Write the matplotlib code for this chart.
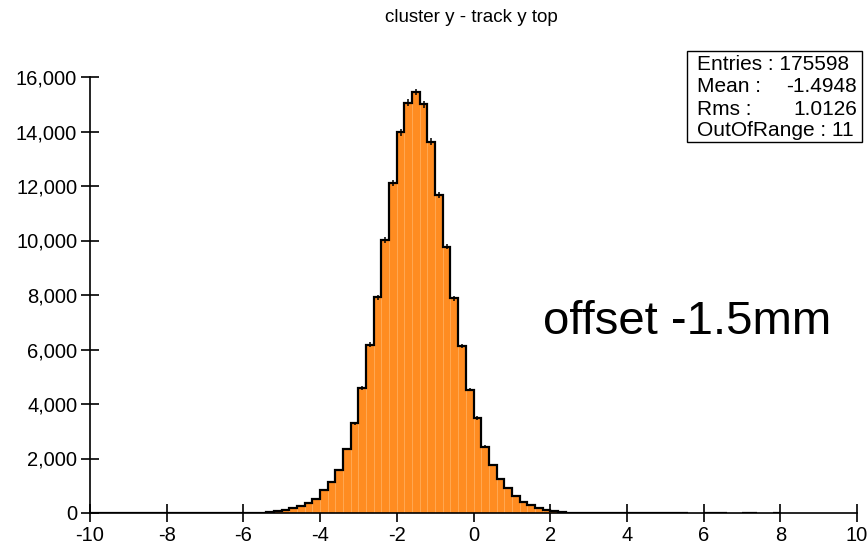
import numpy as np
import matplotlib
matplotlib.use("Agg")
import matplotlib.pyplot as plt
from matplotlib.ticker import FuncFormatter
from matplotlib.patches import Rectangle

plt.rcParams['font.family'] = ['Liberation Sans', 'DejaVu Sans']

# Histogram definition: 100 bins of 0.2 from -10 to 10
x_min = -10.0
x_max = 10.0
n_bins = 100
counts = [
    2, 1, 2, 3, 2, 4, 3, 2, 5, 4,
    3, 6, 5, 7, 6, 8, 9, 11, 10, 10,
    9, 8, 12, 20, 90, 110, 170, 257, 380, 500,
    830, 1150, 1580, 2345, 3300, 4575, 6180, 7910, 10020, 12100,
    13970, 15060, 15450, 15000, 13630, 11670, 9775, 7880, 6140, 4530,
    3490, 2435, 1770, 1230, 915, 610, 415, 285, 170, 110,
    85, 25, 14, 10, 8, 6, 5, 4, 3, 3,
    2, 2, 2, 1, 1, 1, 1, 1, 0, 0,
    1, 1, 1, 0, 0, 1, 1, 0, 0, 1,
    0, 0, 0, 0, 0, 0, 0, 0, 0, 0,
]

title = "cluster y - track y top"
stats_labels = ["Entries : 175598", "Mean :", "Rms :", "OutOfRange : 11"]
stats_values = ["", "-1.4948", "1.0126", ""]
annotation = "offset -1.5mm"
x_ticks = [-10, -8, -6, -4, -2, 0, 2, 4, 6, 8, 10]
y_ticks = [0, 2000, 4000, 6000, 8000, 10000, 12000, 14000, 16000]

counts = np.array(counts, dtype=float)
edges = np.linspace(x_min, x_max, n_bins + 1)
centers = 0.5 * (edges[:-1] + edges[1:])
widths = np.diff(edges)

fig = plt.figure(figsize=(8.67, 5.5), dpi=100)
ax = fig.add_axes([90 / 867, 1 - 513 / 550, (857 - 90) / 867, (513 - 77) / 550])

orange = '#FF8C21'
ax.bar(centers, counts, width=widths, color=orange, edgecolor='#FFAA55',
       linewidth=0.6, zorder=2)

outline = np.where(counts > 0, counts, np.nan)
ax.stairs(outline, edges, color='black', linewidth=1.6, zorder=3)
nz = counts > 0
ax.errorbar(centers[nz], counts[nz], yerr=np.sqrt(counts[nz]), fmt='none',
            ecolor='black', elinewidth=1.1, capsize=0, zorder=4)

ax.set_xlim(x_min, x_max)
ax.set_ylim(0, 16000)
ax.set_xticks(x_ticks)
ax.set_yticks(y_ticks)
ax.yaxis.set_major_formatter(FuncFormatter(lambda v, p: f"{int(v):,}"))
ax.xaxis.set_major_formatter(FuncFormatter(lambda v, p: f"{int(v)}"))

for side in ['top', 'right']:
    ax.spines[side].set_visible(False)
for side in ['left', 'bottom']:
    ax.spines[side].set_linewidth(1.2)
    ax.spines[side].set_zorder(5)
ax.tick_params(direction='inout', length=13.5, width=1.2, labelsize=14.5,
               colors='black', pad=2.5)

fig.text(471 / 867, 1 - 18 / 550, title, ha='center', va='center', fontsize=13.5)

# statistics box
bx0, by0, bx1, by1 = 687, 51, 862, 142
fig.add_artist(Rectangle((bx0 / 867, 1 - by1 / 550), (bx1 - bx0) / 867,
                         (by1 - by0) / 550, transform=fig.transFigure,
                         facecolor='white', edgecolor='black', linewidth=1.0))
row_y = [64, 87, 109, 131]
for lab, val, yy in zip(stats_labels, stats_values, row_y):
    fig.text(697 / 867, 1 - yy / 550, lab, ha='left', va='center', fontsize=15)
    if val:
        fig.text(857 / 867, 1 - yy / 550, val, ha='right', va='center', fontsize=15)

ax.text(543 / 867, 1 - 322 / 550, annotation, transform=fig.transFigure,
        ha='left', va='center', fontsize=34)

fig.savefig('out.png', dpi=100)
